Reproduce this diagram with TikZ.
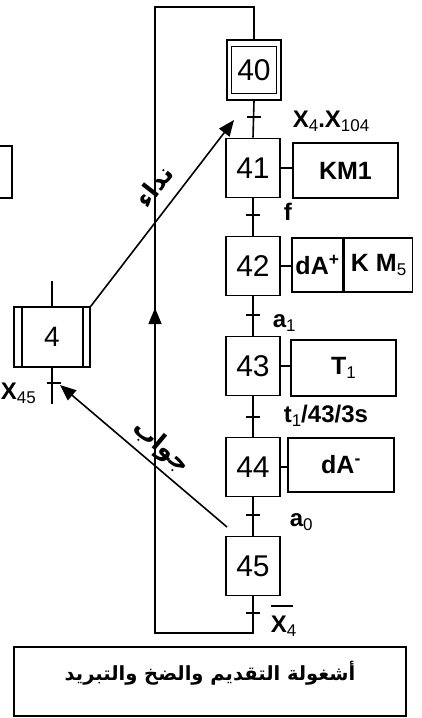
\documentclass[tikz,border=0pt]{standalone}
\usepackage{fontspec}
\setmainfont{Liberation Sans}
\newfontfamily\arabicfont[Script=Arabic]{DejaVu Sans}
\TeXXeTstate=1
\usetikzlibrary{arrows.meta}
\newcommand{\sbx}[1]{\raisebox{-4pt}{\fontsize{17}{18}\selectfont\mdseries #1}}
\begin{document}
\begin{tikzpicture}[x=1pt,y=-1pt, line width=1.6pt,
  stepbox/.style={draw, minimum width=54pt, minimum height=59pt, inner sep=0pt, font=\fontsize{30}{32}\selectfont},
  actbox/.style={draw, minimum height=55pt, inner sep=0pt, font=\fontsize{25}{28}\selectfont\bfseries},
  lbl/.style={font=\fontsize{24}{26}\selectfont\bfseries, inner sep=0pt},
  arlbl/.style={font=\arabicfont\bfseries\fontsize{25}{28}\selectfont, inner sep=0pt},
  arr/.style={-{Triangle[length=16pt,width=13pt]}},
]
\useasboundingbox (0,0) rectangle (422,718);

% steps
\node[stepbox, minimum width=45pt, minimum height=47pt] (s40) at (254,70) {40};
\node[draw, minimum width=54pt, minimum height=60pt, inner sep=0pt] (s40o) at (254,70) {};
\node[stepbox] (s41) at (253,168) {41};
\node[stepbox] (s42) at (253,266) {42};
\node[stepbox] (s43) at (253,366) {43};
\node[stepbox] (s44) at (253,467) {44};
\node[stepbox] (s45) at (253,566) {45};

% actions
\node[actbox, minimum width=105pt] (a41) at (345.5,170.5) {KM1};
\node[actbox, minimum width=51pt, minimum height=54pt] (a42a) at (317.5,265) {dA\textsuperscript{+}};
\node[actbox, minimum width=68pt, minimum height=54pt, anchor=west] (a42b) at (a42a.east) {K M\sbx{5}};
\node[actbox, minimum width=105pt, minimum height=56pt] (a43) at (343.5,368) {T\sbx{1}};
\node[actbox, minimum width=106pt, minimum height=54pt] (a44) at (341,465) {dA\textsuperscript{-}};

\draw (s41.east) -- (s41.east -| a41.west);
\draw (s42.east) -- (s42.east -| a42a.west);
\draw (s43.east) -- (s43.east -| a43.west);
\draw (s44.east) -- (s44.east -| a44.west);

% links and transitions
\draw (s40o.south) -- (s41.north);
\draw (s41.south) -- (s42.north);
\draw (s42.south) -- (s43.north);
\draw (s43.south) -- (s44.north);
\draw (s44.south) -- (s45.north);
\coordinate (t0) at (254,117);
\coordinate (t1) at (253,215);
\coordinate (t2) at (253,315);
\coordinate (t3) at (253,417);
\coordinate (t4) at (253,515);
\coordinate (t5) at (253,613);
\foreach \t in {t0,t1,t2,t3,t4,t5}
  \draw ([xshift=-7pt]\t) -- ([xshift=7pt]\t);

\node[lbl, anchor=base west] (l0) at (292,127) {X\sbx{4}.X\sbx{104}};
\node[lbl, anchor=base west] (l1) at (283,220) {f};
\node[lbl, anchor=base west] (l2) at (272,327) {a\sbx{1}};
\node[lbl, anchor=base west] (l3) at (283,422) {t\sbx{1}/43/3s};
\node[lbl, anchor=base west] (l4) at (289,526) {a\sbx{0}};
\node[lbl, anchor=base west] (l5) at (270,632) {\rlap{\raisebox{25pt}{\rule{22pt}{1.6pt}}}X\sbx{4}};

% loop
\coordinate (b1) at (253,633);
\coordinate (b2) at (155,633);
\coordinate (b3) at (155,7);
\coordinate (b4) at (254,7);
\draw (s45.south) -- (b1) -- (b2) -- (b3) -- (b4) -- (s40o.north);
\coordinate (u1) at (155,342);
\coordinate (u2) at (155,308);
\draw[arr] (u1) -- (u2);

% macro step 4
\node[stepbox, minimum width=76pt, minimum height=60pt, font=\fontsize{28}{30}\selectfont] (s4) at (52,337) {4};
\draw ([xshift=9pt]s4.north west) -- ([xshift=9pt]s4.south west);
\draw ([xshift=-8pt]s4.north east) -- ([xshift=-8pt]s4.south east);
\draw (s4.north) -- ++(0,-25);
\draw (s4.south) -- ++(0,36);
\coordinate (t6) at (53.5,383);
\draw ([xshift=-7pt]t6) -- ([xshift=7pt]t6);
\node[lbl, anchor=base west] (l6) at (0,399) {X\sbx{45}};

% call / answer arrows
\coordinate (p40) at (234,120);
\draw[arr] (s4.north east) -- (p40);
\coordinate (q45) at (227,527);
\coordinate (p4) at (60,385);
\draw[arr] (q45) -- (p4);
\node[arlbl, rotate=52] (call) at (154,186) {\beginR نداء\endR};
\node[arlbl, rotate=-40] (answer) at (161,447) {\beginR جواب\endR};

% cut box at left
\node[draw, minimum width=30pt, minimum height=52pt, inner sep=0pt] (cut) at (-3,172) {};

% title box
\node[draw, minimum width=392pt, minimum height=69pt, inner sep=0pt] (titlebox) at (210,681.5) {};
\node[font=\arabicfont\bfseries\fontsize{19.5}{22}\selectfont, inner sep=0pt] (title) at (210,673) {\beginR أشغولة التقديم والضخ والتبريد\endR};
\end{tikzpicture}
\end{document}
